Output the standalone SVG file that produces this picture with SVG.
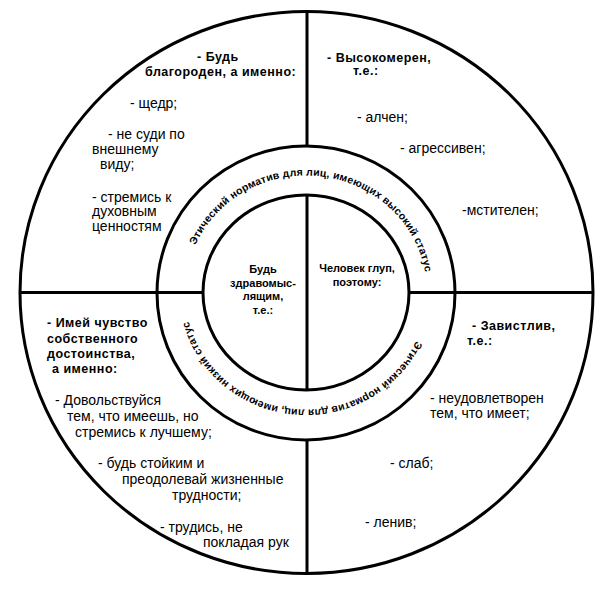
<svg xmlns="http://www.w3.org/2000/svg" width="605" height="592" viewBox="0 0 605 592">
<style>
.ln{fill:none;stroke:#000;stroke-width:3}
.t{font-family:"Liberation Sans",Arial,sans-serif;font-size:14px;fill:#000}
.b{font-family:"Liberation Sans",Arial,sans-serif;font-size:12.5px;font-weight:bold;fill:#000;letter-spacing:0.5px}
.c{font-family:"Liberation Sans",Arial,sans-serif;font-size:11px;font-weight:bold;fill:#000;text-anchor:middle}
.r{font-family:"Liberation Sans",Arial,sans-serif;font-size:10.5px;font-weight:bold;fill:#000;letter-spacing:0.2px}
</style>
<defs>
<path id="ring" d="M185,292.5 A121,117 0 1 1 427,292.5 A121,117 0 1 1 185,292.5"/>
</defs>
<rect width="605" height="592" fill="#fff"/>
<g id="circles">
<ellipse id="outer" class="ln" cx="306.5" cy="292.5" rx="286.5" ry="281"/>
<ellipse id="middle" class="ln" cx="306" cy="293" rx="149" ry="147"/>
<ellipse id="inner" class="ln" cx="306" cy="292.5" rx="103" ry="97.5"/>
</g>
<g id="connectors">
<line class="ln" x1="20" y1="292.5" x2="203" y2="292.5"/>
<line class="ln" x1="409" y1="292.5" x2="593" y2="292.5"/>
<line class="ln" x1="307" y1="11.5" x2="307" y2="146"/>
<line class="ln" x1="307" y1="195" x2="307" y2="390"/>
<line class="ln" x1="307" y1="440" x2="307" y2="573.5"/>
</g>
<g id="ring-high">
<text class="r"><textPath href="#ring" startOffset="26.9%" text-anchor="middle">Этический норматив для лиц, имеющих высокий статус</textPath></text>
</g>
<g id="ring-low">
<text class="r"><textPath href="#ring" startOffset="76.4%" text-anchor="middle">Этический норматив для лиц, имеющих низкий статус</textPath></text>
</g>
<g id="center-left">
<text class="c" x="263" y="273">Будь</text>
<text class="c" x="263" y="286.5">здравомыс-</text>
<text class="c" x="263" y="300">лящим,</text>
<text class="c" x="263" y="314">т.е.:</text>
</g>
<g id="center-right">
<text class="c" x="357" y="272">Человек глуп,</text>
<text class="c" x="357" y="286">поэтому:</text>
</g>
<g id="q-top-left">
<text class="b" x="197" y="61">- Будь</text>
<text class="b" x="145" y="76">благороден, а именно:</text>
<text class="t" x="130" y="108">-  щедр;</text>
<text class="t" x="108" y="139">- не суди по</text>
<text class="t" x="92" y="154">внешнему</text>
<text class="t" x="100" y="169">виду;</text>
<text class="t" x="92" y="202">- стремись к</text>
<text class="t" x="92" y="216">духовным</text>
<text class="t" x="92" y="231">ценностям</text>
</g>
<g id="q-top-right">
<text class="b" x="327" y="62">- Высокомерен,</text>
<text class="b" x="353" y="75">т.е.:</text>
<text class="t" x="357" y="122">- алчен;</text>
<text class="t" x="400" y="153">- агрессивен;</text>
<text class="t" x="462" y="215">-мстителен;</text>
</g>
<g id="q-bottom-left">
<text class="b" x="47" y="327">- Имей чувство</text>
<text class="b" x="47" y="343">собственного</text>
<text class="b" x="47" y="358">достоинства,</text>
<text class="b" x="52" y="373">а именно:</text>
<text class="t" x="55" y="405">- Довольствуйся</text>
<text class="t" x="67" y="421">тем, что имеешь, но</text>
<text class="t" x="75" y="437">стремись к лучшему;</text>
<text class="t" x="98" y="468">- будь стойким и</text>
<text class="t" x="122" y="484">преодолевай жизненные</text>
<text class="t" x="172" y="500">трудности;</text>
<text class="t" x="160" y="532">- трудись, не</text>
<text class="t" x="203" y="547">покладая рук</text>
</g>
<g id="q-bottom-right">
<text class="b" x="472" y="330">- Завистлив,</text>
<text class="b" x="467" y="345">т.е.:</text>
<text class="t" x="430" y="403">- неудовлетворен</text>
<text class="t" x="430" y="418">тем, что имеет;</text>
<text class="t" x="390" y="468">- слаб;</text>
<text class="t" x="365" y="527">- ленив;</text>
</g>
</svg>
